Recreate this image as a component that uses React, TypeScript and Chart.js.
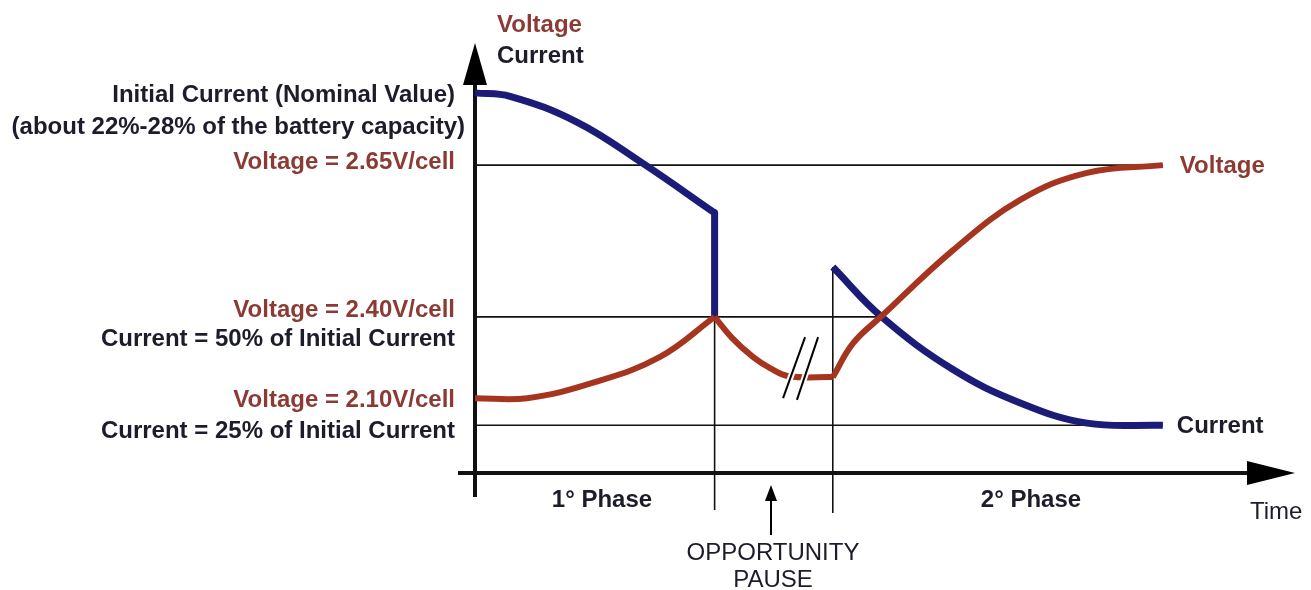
import React, { useEffect, useRef } from "react";
import { Chart, registerables } from "chart.js";

Chart.register(...registerables);

// ---- Data (time units 0..100, level units 0..100) ----
const currentPhase1X = [0, 4.3, 12.5, 20.6, 29.4];
const currentPhase1Y = [88.4, 87.6, 81.6, 72.0, 60.5];
const currentDropX = [29.4, 29.4];
const currentDropY = [60.5, 36.3];
const currentPhase2X = [43.9, 49.9, 58.7, 66.9, 75.1, 84.4];
const currentPhase2Y = [47.9, 36.3, 24.0, 16.3, 11.6, 11.1];

const voltagePhase1X = [0, 6.4, 14.5, 22.7, 29.4];
const voltagePhase1Y = [17.4, 17.4, 21.0, 27.0, 36.3];
const voltagePauseX = [29.4, 31.5, 34.1, 36.2, 38.5, 43.9];
const voltagePauseY = [36.3, 31.5, 27.0, 24.4, 22.5, 22.3];
const voltagePhase2X = [43.9, 46.4, 49.9, 58.7, 66.9, 75.1, 84.4];
const voltagePhase2Y = [22.3, 30.2, 36.5, 51.9, 63.5, 69.8, 71.6];

const LEVEL_265 = 71.6;
const LEVEL_240 = 36.3;
const LEVEL_25PCT = 11.1;
const PHASE1_END = 29.4;
const PHASE2_START = 43.9;
const CURVE_END = 84.4;
const CROSS_X = 49.9;

const leftLabels = [
  { text: "Initial Current (Nominal Value)", color: "dark", y: 95, right: 455 },
  { text: "(about 22%-28% of the battery capacity)", color: "dark", y: 127, right: 465 },
  { text: "Voltage = 2.65V/cell", color: "red", y: 162, right: 455 },
  { text: "Voltage = 2.40V/cell", color: "red", y: 310, right: 455 },
  { text: "Current = 50% of Initial Current", color: "dark", y: 339, right: 455 },
  { text: "Voltage = 2.10V/cell", color: "red", y: 400, right: 455 },
  { text: "Current = 25% of Initial Current", color: "dark", y: 431, right: 455 },
];

const BLUE = "#1b1c78";
const RED = "#a5351f";
const TEXT_RED = "#8c3a34";
const TEXT_DARK = "#1c1c2a";
const FONT = '"Liberation Sans", Arial, sans-serif';

const pts = (xs: number[], ys: number[]) => xs.map((x, i) => ({ x, y: ys[i] }));

const decorPlugin = {
  id: "decor",
  beforeDatasetsDraw(chart: any) {
    const { ctx, scales } = chart;
    const xs = scales.x;
    const ys = scales.y;
    const px = (v: number) => xs.getPixelForValue(v);
    const py = (v: number) => ys.getPixelForValue(v);
    ctx.save();
    ctx.strokeStyle = "#111";
    ctx.lineWidth = 1.6;
    const hline = (y: number, x0: number, x1: number) => {
      ctx.beginPath();
      ctx.moveTo(px(x0), py(y));
      ctx.lineTo(px(x1), py(y));
      ctx.stroke();
    };
    hline(LEVEL_265, 0, CURVE_END);
    hline(LEVEL_240, 0, CROSS_X);
    hline(LEVEL_25PCT, 0, CURVE_END);
    const vline = (x: number, yTop: number, extra: number) => {
      ctx.beginPath();
      ctx.moveTo(px(x), py(yTop));
      ctx.lineTo(px(x), py(0) + extra);
      ctx.stroke();
    };
    vline(PHASE1_END, LEVEL_240, 37);
    vline(PHASE2_START, currentPhase2Y[0], 40);

    const ox = px(0);
    const oy = py(0);
    ctx.lineWidth = 4;
    ctx.beginPath();
    ctx.moveTo(ox, oy + 24);
    ctx.lineTo(ox, py(100) + 30);
    ctx.stroke();
    ctx.beginPath();
    ctx.moveTo(ox - 17, oy);
    ctx.lineTo(px(100) - 30, oy);
    ctx.stroke();
    ctx.fillStyle = "#000";
    const top = py(100);
    ctx.beginPath();
    ctx.moveTo(ox, top);
    ctx.lineTo(ox + 12, top + 42);
    ctx.lineTo(ox - 12, top + 42);
    ctx.closePath();
    ctx.fill();
    const right = px(100) + 5;
    ctx.beginPath();
    ctx.moveTo(right, oy);
    ctx.lineTo(right - 48, oy - 12);
    ctx.lineTo(right - 48, oy + 12);
    ctx.closePath();
    ctx.fill();
    ctx.restore();
  },
  afterDatasetsDraw(chart: any) {
    const { ctx, scales } = chart;
    const xs = scales.x;
    const ys = scales.y;
    const px = (v: number) => xs.getPixelForValue(v);
    const py = (v: number) => ys.getPixelForValue(v);
    ctx.save();
    const marks = [
      [40.5, 31.6, 37.8, 17.4],
      [42.1, 31.6, 39.5, 17.0],
    ];
    for (const [x0, y0, x1, y1] of marks) {
      ctx.strokeStyle = "#fff";
      ctx.lineWidth = 6;
      ctx.beginPath();
      ctx.moveTo(px(x0), py(y0));
      ctx.lineTo(px(x1), py(y1));
      ctx.stroke();
      ctx.strokeStyle = "#000";
      ctx.lineWidth = 2;
      ctx.beginPath();
      ctx.moveTo(px(x0), py(y0));
      ctx.lineTo(px(x1), py(y1));
      ctx.stroke();
    }

    ctx.textBaseline = "middle";
    const bold = `bold 24px ${FONT}`;
    const normal = `24px ${FONT}`;
    ctx.font = bold;
    ctx.textAlign = "right";
    for (const l of leftLabels) {
      ctx.fillStyle = l.color === "red" ? TEXT_RED : TEXT_DARK;
      ctx.fillText(l.text, l.right, l.y);
    }
    ctx.textAlign = "left";
    ctx.fillStyle = TEXT_RED;
    ctx.fillText("Voltage", 497, 25);
    ctx.fillStyle = TEXT_DARK;
    ctx.fillText("Current", 497, 56);

    ctx.fillStyle = TEXT_RED;
    ctx.fillText("Voltage", px(CURVE_END) + 17, py(LEVEL_265) + 1);
    ctx.fillStyle = TEXT_DARK;
    ctx.fillText("Current", px(CURVE_END) + 14, py(LEVEL_25PCT) + 1);

    ctx.textAlign = "center";
    ctx.fillText("1° Phase", 602, 500);
    ctx.fillText("2° Phase", 1031, 500);

    ctx.font = normal;
    ctx.fillText("OPPORTUNITY", 773, 553);
    ctx.fillText("PAUSE", 773, 580);
    ctx.textAlign = "left";
    ctx.fillText("Time", 1250, 512);

    ctx.strokeStyle = "#000";
    ctx.fillStyle = "#000";
    ctx.lineWidth = 2;
    ctx.beginPath();
    ctx.moveTo(771, 535);
    ctx.lineTo(771, 498);
    ctx.stroke();
    ctx.beginPath();
    ctx.moveTo(771, 485);
    ctx.lineTo(777, 501);
    ctx.lineTo(765, 501);
    ctx.closePath();
    ctx.fill();
    ctx.restore();
  },
};

export default function App() {
  const ref = useRef<HTMLCanvasElement | null>(null);
  useEffect(() => {
    if (!ref.current) return;
    const common = {
      pointRadius: 0,
      fill: false,
      clip: false as any,
      tension: 0.4,
      borderJoinStyle: "round" as const,
    };
    const chart = new Chart(ref.current, {
      type: "line",
      data: {
        datasets: [
          { ...common, label: "Voltage 1", data: pts(voltagePhase1X, voltagePhase1Y), borderColor: RED, borderWidth: 6 },
          { ...common, label: "Voltage pause", data: pts(voltagePauseX, voltagePauseY), borderColor: RED, borderWidth: 6 },
          { ...common, label: "Voltage 2", data: pts(voltagePhase2X, voltagePhase2Y), borderColor: RED, borderWidth: 6 },
          { ...common, label: "Current 1", data: pts(currentPhase1X, currentPhase1Y), borderColor: BLUE, borderWidth: 7 },
          { ...common, tension: 0, label: "Current drop", data: pts(currentDropX, currentDropY), borderColor: BLUE, borderWidth: 7 },
          { ...common, label: "Current 2", data: pts(currentPhase2X, currentPhase2Y), borderColor: BLUE, borderWidth: 7 },
        ],
      },
      options: {
        animation: false,
        responsive: true,
        maintainAspectRatio: false,
        layout: { padding: { left: 475, right: 21, top: 43, bottom: 117 } },
        plugins: { legend: { display: false }, tooltip: { enabled: false } },
        scales: {
          x: { type: "linear", min: 0, max: 100, display: false },
          y: { type: "linear", min: 0, max: 100, display: false },
        },
      },
      plugins: [decorPlugin],
    });
    return () => chart.destroy();
  }, []);
  return (
    <div style={{ position: "fixed", left: 0, top: 0, width: 1311, height: 590, background: "#fff" }}>
      <canvas ref={ref} />
    </div>
  );
}
